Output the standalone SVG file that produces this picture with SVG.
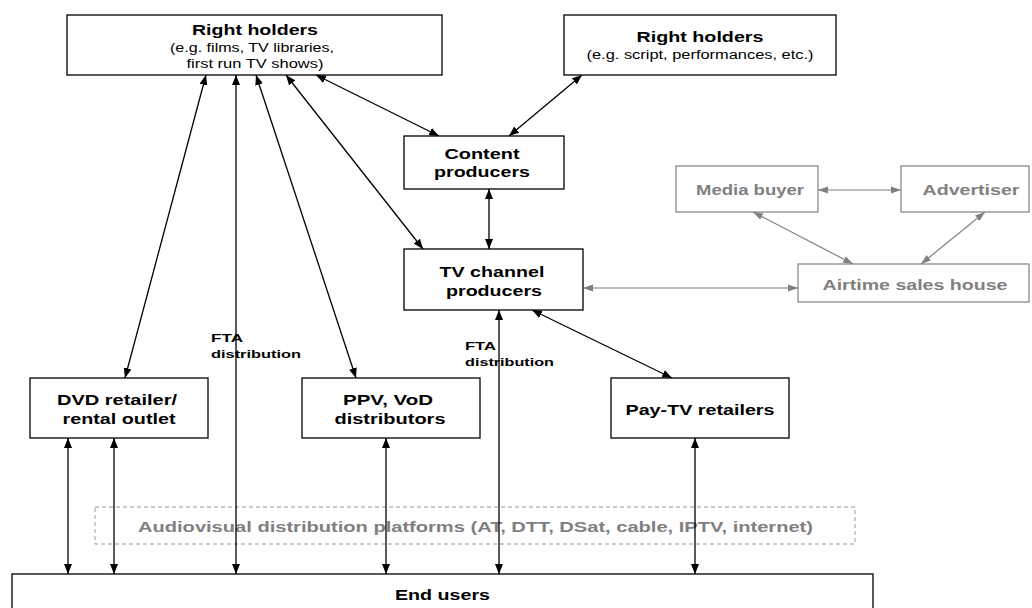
<svg xmlns="http://www.w3.org/2000/svg" width="1032" height="608" viewBox="0 0 1032 608">
<defs>
<marker id="ab" markerUnits="userSpaceOnUse" markerWidth="10" markerHeight="8" refX="10" refY="4" orient="auto-start-reverse"><path d="M0,0 L10,4 L0,8 z" fill="#000"/></marker>
<marker id="ag" markerUnits="userSpaceOnUse" markerWidth="10" markerHeight="8" refX="10" refY="4" orient="auto-start-reverse"><path d="M0,0.5 L10,4 L0,7.5 z" fill="#808080"/></marker>
</defs>
<style>
.box{fill:#fff;stroke:#000;stroke-width:1.3}
.gbox{fill:#fff;stroke:#808080;stroke-width:1.2}
.t{font-family:"Liberation Sans",Arial,sans-serif;font-weight:bold;font-size:15px;fill:#000;text-anchor:middle}
.s{font-family:"Liberation Sans",Arial,sans-serif;font-size:12px;fill:#000;text-anchor:middle}
.g{font-family:"Liberation Sans",Arial,sans-serif;font-weight:bold;font-size:14px;fill:#808080;text-anchor:middle}
.f{font-family:"Liberation Sans",Arial,sans-serif;font-weight:bold;font-size:11.5px;fill:#000}
.c{stroke:#000;stroke-width:1.3;fill:none;marker-start:url(#ab);marker-end:url(#ab)}
.cg{stroke:#808080;stroke-width:1.2;fill:none;marker-start:url(#ag);marker-end:url(#ag)}
</style>
<rect width="1032" height="608" fill="#fff"/>
<g id="platforms">
<rect x="95" y="507" width="760" height="37" fill="none" stroke="#999" stroke-width="1" stroke-dasharray="4,3"/>
<text class="g" x="475.5" y="532" font-size="15" textLength="675" lengthAdjust="spacingAndGlyphs">Audiovisual distribution platforms (AT, DTT, DSat, cable, IPTV, internet)</text>
</g>
<g id="connectors">
<line class="c" x1="206" y1="75" x2="125" y2="378"/>
<line class="c" x1="236" y1="75" x2="236" y2="574"/>
<line class="c" x1="256" y1="75" x2="356" y2="378"/>
<line class="c" x1="286" y1="75" x2="423" y2="249"/>
<line class="c" x1="316" y1="75" x2="439" y2="136"/>
<line class="c" x1="582" y1="75" x2="509" y2="136"/>
<line class="c" x1="489" y1="189" x2="489" y2="249"/>
<line class="c" x1="532" y1="310" x2="672" y2="378"/>
<line class="c" x1="499" y1="310" x2="499" y2="574"/>
<line class="c" x1="68" y1="438" x2="68" y2="574"/>
<line class="c" x1="114" y1="438" x2="114" y2="574"/>
<line class="c" x1="386" y1="438" x2="386" y2="574"/>
<line class="c" x1="695" y1="438" x2="695" y2="574"/>
<line class="cg" x1="583" y1="288" x2="798" y2="288"/>
<line class="cg" x1="818" y1="190" x2="901" y2="190"/>
<line class="cg" x1="753" y1="212" x2="853" y2="264"/>
<line class="cg" x1="985" y1="212" x2="921" y2="264"/>
</g>
<g id="fta1">
<text class="f" x="211" y="342" textLength="32" lengthAdjust="spacingAndGlyphs">FTA</text>
<text class="f" x="211" y="358" textLength="90" lengthAdjust="spacingAndGlyphs">distribution</text>
</g>
<g id="fta2">
<text class="f" x="465" y="350" textLength="31" lengthAdjust="spacingAndGlyphs">FTA</text>
<text class="f" x="465" y="366" textLength="89" lengthAdjust="spacingAndGlyphs">distribution</text>
</g>
<g id="rightholders1">
<rect class="box" x="67" y="15" width="375" height="60"/>
<text class="t" x="255" y="35" font-size="14" textLength="126" lengthAdjust="spacingAndGlyphs">Right holders</text>
<text class="s" x="252" y="52" textLength="164" lengthAdjust="spacingAndGlyphs">(e.g. films, TV libraries,</text>
<text class="s" x="255" y="68" textLength="137" lengthAdjust="spacingAndGlyphs">first run TV shows)</text>
</g>
<g id="rightholders2">
<rect class="box" x="564" y="15" width="272" height="60"/>
<text class="t" x="700" y="42" font-size="14" textLength="127" lengthAdjust="spacingAndGlyphs">Right holders</text>
<text class="s" x="700" y="59" textLength="227" lengthAdjust="spacingAndGlyphs">(e.g. script, performances, etc.)</text>
</g>
<g id="content">
<rect class="box" x="404" y="136" width="160" height="53"/>
<text class="t" x="482" y="159" textLength="75" lengthAdjust="spacingAndGlyphs">Content</text>
<text class="t" x="482" y="177" textLength="96" lengthAdjust="spacingAndGlyphs">producers</text>
</g>
<g id="tvchannel">
<rect class="box" x="404" y="249" width="179" height="61"/>
<text class="t" x="492" y="277" textLength="105" lengthAdjust="spacingAndGlyphs">TV channel</text>
<text class="t" x="494" y="296" textLength="96" lengthAdjust="spacingAndGlyphs">producers</text>
</g>
<g id="mediabuyer">
<rect class="gbox" x="676" y="166" width="142" height="46"/>
<text class="g" x="750" y="195" textLength="108" lengthAdjust="spacingAndGlyphs">Media buyer</text>
</g>
<g id="advertiser">
<rect class="gbox" x="901" y="166" width="128" height="46"/>
<text class="g" x="971" y="195" textLength="97" lengthAdjust="spacingAndGlyphs">Advertiser</text>
</g>
<g id="airtime">
<rect class="gbox" x="798" y="264" width="231" height="38"/>
<text class="g" x="915" y="290" textLength="185" lengthAdjust="spacingAndGlyphs">Airtime sales house</text>
</g>
<g id="dvd">
<rect class="box" x="30" y="378" width="178" height="60"/>
<text class="t" x="117" y="405" textLength="120" lengthAdjust="spacingAndGlyphs">DVD retailer/</text>
<text class="t" x="119" y="424" textLength="113" lengthAdjust="spacingAndGlyphs">rental outlet</text>
</g>
<g id="ppv">
<rect class="box" x="302" y="378" width="178" height="60"/>
<text class="t" x="388" y="405" textLength="90" lengthAdjust="spacingAndGlyphs">PPV, VoD</text>
<text class="t" x="390" y="424" textLength="111" lengthAdjust="spacingAndGlyphs">distributors</text>
</g>
<g id="paytv">
<rect class="box" x="611" y="378" width="178" height="60"/>
<text class="t" x="700" y="415" textLength="149" lengthAdjust="spacingAndGlyphs">Pay-TV retailers</text>
</g>
<g id="endusers">
<rect class="box" x="12" y="574" width="861" height="50"/>
<text class="t" x="442.5" y="600" font-size="14" textLength="95" lengthAdjust="spacingAndGlyphs">End users</text>
</g>
</svg>
